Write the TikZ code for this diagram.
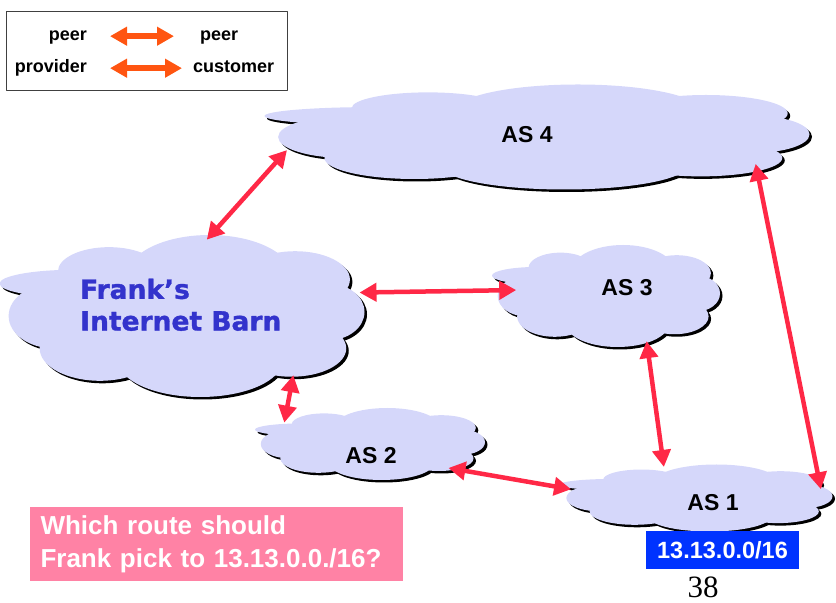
\documentclass[tikz,border=0pt]{standalone}
\usepackage{fontspec}
\setmainfont{Liberation Sans}
\newfontfamily\barnfont[FakeBold=1.2]{DejaVu Sans Bold}
\newfontfamily\pagefont{Liberation Serif}
\usetikzlibrary{arrows.meta,shapes.geometric}

\definecolor{cloudfill}{RGB}{213,215,250}
\definecolor{linkred}{RGB}{255,40,70}
\definecolor{legendorange}{RGB}{255,85,17}
\definecolor{frankblue}{RGB}{51,51,204}
\definecolor{notepink}{RGB}{255,130,165}
\definecolor{prefixblue}{RGB}{0,51,255}

% puffs of one cloud, in a box from -1 to 1: x/y/x radius/y radius
\newcommand{\cloudpuffs}{-0.60/0.40/0.40/0.17, -0.40/0.55/0.28/0.30, 0.15/0.50/0.45/0.50,
  0.62/0.45/0.30/0.35, 0.80/0.05/0.20/0.35, 0.60/-0.40/0.30/0.35, 0.10/-0.55/0.45/0.45,
  -0.45/-0.40/0.33/0.40, -0.70/0.00/0.25/0.40, 0.00/0.00/0.70/0.60}
% cloud with its shadow: name, x, y, half width, half height (bp)
\newcommand{\drawcloud}[5]{%
  \begin{scope}[shift={(#2bp,#3bp)}, xshift=2.5bp, yshift=-2.5bp, x=#4bp, y=#5bp]
    \foreach \px/\py/\rx/\ry in \cloudpuffs \fill[black] (\px,\py) ellipse ({\rx} and {\ry});
  \end{scope}
  \begin{scope}[shift={(#2bp,#3bp)}, x=#4bp, y=#5bp]
    \foreach \px/\py/\rx/\ry in \cloudpuffs \fill[cloudfill] (\px,\py) ellipse ({\rx} and {\ry});
  \end{scope}
  \node (#1) at (#2bp,#3bp) [cloudbody, minimum width={1.9*#4bp}, minimum height={1.9*#5bp}] {};
}

\tikzset{
  cloudbody/.style={ellipse, draw=none, inner sep=0pt},
  aslabel/.style={font=\bfseries\fontsize{23bp}{27bp}\selectfont, inner sep=0pt},
  legendtext/.style={font=\bfseries\fontsize{18bp}{22bp}\selectfont, inner sep=0pt,
    text height=13bp, text depth=4bp},
  link/.style={draw=linkred, line width=4.5bp, <->},
  legendlink/.style={draw=legendorange, line width=5.5bp, <->},
}

\begin{document}
\begin{tikzpicture}[>={Triangle[length=17bp,width=18bp]},line join=bevel]
\useasboundingbox (0bp,0bp) rectangle (836bp,603bp);
%% legend
\node (legend) at (146.5bp,551.5bp) [draw=black!75, line width=1bp, minimum width=281bp, minimum height=79bp] {};
\node (peer_a) at (87bp,566.8bp) [legendtext, anchor=east] {peer};
\node (peer_b) at (200bp,566.8bp) [legendtext, anchor=west] {peer};
\node (provider) at (87bp,534.8bp) [legendtext, anchor=east] {provider};
\node (customer) at (193bp,534.8bp) [legendtext, anchor=west] {customer};
\draw [legendlink, shorten <=23bp, shorten >=26bp] (peer_a) -- (peer_b);
\draw [legendlink, shorten <=23bp, shorten >=11bp] (provider) -- (customer);
%% clouds
\drawcloud{as4}{537}{466}{272.5}{52.5}
\drawcloud{frank}{182}{287}{182.5}{81}
\drawcloud{as3}{606}{307}{114}{51}
\drawcloud{as2}{370}{159}{115}{36}
\drawcloud{as1}{696}{105}{136.5}{33.5}
\node (as4_name) at (527bp,468bp) [aslabel] {AS 4};
\node (as3_name) at (627bp,315.5bp) [aslabel] {AS 3};
\node (as2_name) at (371bp,147.5bp) [aslabel] {AS 2};
\node (as1_name) at (713bp,100bp) [aslabel] {AS 1};
\node (frank_name) at (80bp,324.5bp) [anchor=north west, align=left, inner sep=0pt, text=frankblue,
  font=\barnfont\fontsize{26.5bp}{31.7bp}\selectfont] {Frank’s\\Internet Barn};
%% links
\draw [link] (frank.72) -- (as4.183);
\draw [link, shorten <=12bp, shorten >=-18bp] (frank.8) -- (as3.177);
\draw [link] (frank.332) -- (as2.166);
\draw [link] (as2.343) -- (as1.176);
\draw [link] (as3.312) -- (as1.136);
\draw [link] (as4.353) -- (as1.4);
%% question and prefix
\node (question) at (216.5bp,59bp) [fill=notepink, minimum width=373bp, minimum height=74bp,
  text width=352bp, inner xsep=10.5bp, align=left, text=white,
  font=\bfseries\fontsize{26bp}{32.7bp}\selectfont] {Which route should\\Frank pick to 13.13.0.0./16?};
\node (prefix) at (722.5bp,53bp) [fill=prefixblue, minimum width=153bp, minimum height=38bp,
  text=white, font=\bfseries\fontsize{23.5bp}{28bp}\selectfont] {13.13.0.0/16};
\node (pagenum) at (703bp,5.5bp) [anchor=base, inner sep=0pt, font=\pagefont\fontsize{31bp}{36bp}\selectfont] {38};
%
\end{tikzpicture}
\end{document}
